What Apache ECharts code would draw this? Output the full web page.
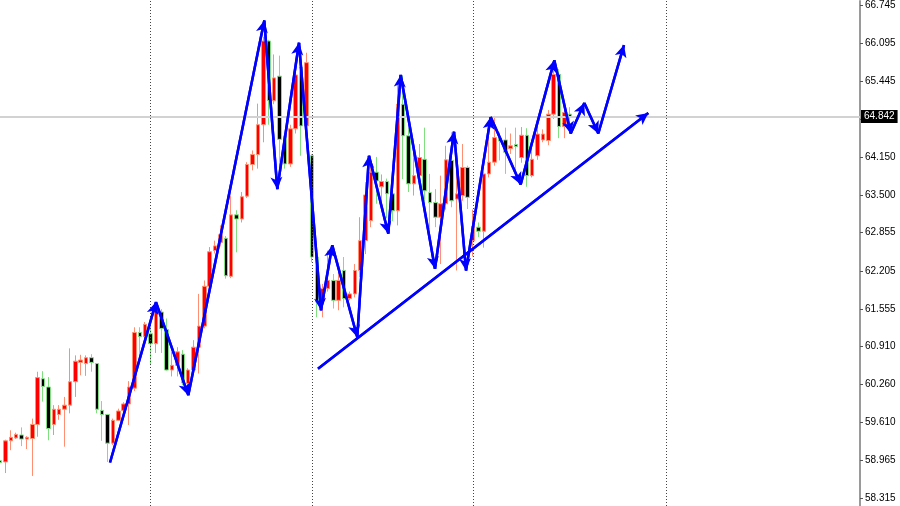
<!DOCTYPE html>
<html><head><meta charset="utf-8">
<script src="https://cdn.jsdelivr.net/npm/echarts@6/dist/echarts.min.js"></script>
<style>html,body{margin:0;padding:0;background:#fff}#c{width:900px;height:506px}</style>
</head><body><div id="c"></div>
<script>
// ---- data ----
const openV = [58.96,58.94,59.30,59.35,59.40,59.33,59.34,59.58,60.36,60.22, 59.58,59.75,59.84,59.91,60.31,60.64,60.62,60.72,60.62,59.82, 59.75,59.26,59.65,59.82,59.93,60.20,61.15,61.08,61.13,60.96, 61.50,61.20,60.51,60.59,60.78,60.28,60.51,60.90,61.26,61.94, 62.55,62.69,62.76,62.11,63.16,63.09,63.48,64.02,64.19,64.70, 66.13,65.11,65.53,64.51,64.03,64.63,65.68,64.68,64.17,62.44, 61.70,61.90,62.04,61.70,62.21,61.73,61.81,62.21,62.72,63.06, 63.89,63.64,63.73,63.52,63.23,65.05,64.51,63.69,63.83,64.11, 63.54,63.37,63.12,63.35,64.09,63.43,63.49,63.97,62.72,62.95, 62.88,63.86,64.06,64.47,64.44,64.29,64.36,64.14,64.52,63.83, 64.17,64.44,64.43,64.88,65.56,64.67,64.88];
const closeV = [58.93,59.30,59.36,59.41,59.33,59.36,59.58,60.38,60.23,59.51, 59.84,59.84,59.91,60.31,60.66,60.68,60.72,60.64,59.84,59.75, 59.26,59.65,59.81,59.93,60.22,61.15,61.08,61.29,60.96,61.53, 61.22,60.51,60.59,60.82,60.29,60.51,60.90,61.26,61.94,62.53, 62.63,62.82,62.12,63.16,63.09,63.47,64.02,64.19,64.70,66.13, 65.11,65.50,64.45,64.03,64.63,65.55,64.68,65.76,62.44,61.67, 61.90,62.04,61.70,62.04,61.73,61.81,62.21,62.72,63.50,63.89, 63.74,63.73,63.52,63.23,65.05,64.51,63.69,63.83,64.14,63.57, 63.37,63.12,63.35,64.10,63.40,63.52,63.97,63.46,62.97,62.88, 63.86,64.06,64.48,64.42,64.23,64.34,64.33,64.52,63.83,64.11, 64.54,64.54,64.88,65.56,64.67,64.91,64.842];
const lowV = [58.55,58.75,59.14,59.33,59.21,59.16,58.70,59.37,59.97,59.31, 59.40,59.66,59.20,59.77,60.05,60.42,60.41,60.48,59.77,59.30, 58.94,59.23,59.64,59.80,59.57,60.15,60.73,61.05,60.59,60.80, 60.80,60.50,60.40,60.40,60.25,60.14,60.44,60.45,61.22,61.90, 62.50,62.62,62.07,62.08,62.52,63.03,63.45,63.92,63.95,64.40, 64.70,65.05,64.00,63.95,63.98,64.55,64.17,64.60,62.35,61.41, 61.41,61.85,61.56,61.53,61.58,61.70,61.75,62.10,62.49,62.95, 63.35,63.40,63.10,63.05,62.98,63.77,63.55,63.49,63.75,63.40, 62.92,62.95,62.32,63.25,63.29,62.21,63.40,63.26,62.45,62.78, 62.60,63.80,64.00,64.09,63.86,64.20,63.88,64.05,63.64,63.80, 64.10,64.40,64.35,64.80,64.47,64.47,64.62];
const highV = [59.17,59.32,59.48,59.44,59.53,59.38,59.68,60.48,60.49,60.39, 59.91,59.91,60.05,60.88,60.76,60.77,60.76,60.78,60.63,59.98, 59.76,59.68,59.85,59.96,60.32,61.24,61.24,61.33,61.25,61.65, 61.55,61.39,60.82,60.90,60.85,60.54,61.02,61.81,62.04,62.61, 62.72,62.98,62.80,63.49,63.24,63.55,64.06,64.26,65.06,66.20, 66.15,65.90,65.88,64.55,64.70,65.72,65.73,65.93,64.20,62.44, 61.98,62.55,62.15,62.27,62.44,61.85,62.32,63.12,63.72,64.09, 64.15,63.85,63.78,63.70,65.45,65.55,64.65,64.37,64.37,64.65, 63.86,63.60,63.83,64.34,64.57,64.09,64.37,64.00,63.25,63.03, 63.90,64.50,64.85,64.57,64.65,64.55,64.65,64.66,64.64,64.40, 64.66,64.62,64.95,65.62,65.65,64.99,65.00];

const slotCount = 161;                       // bar slots incl. empty future space
const cats = Array.from({length: slotCount}, (_, i) => String(i));
const tickLabels = ['58.315','58.965','59.610','60.260','60.910','61.555','62.205','62.855','63.500','64.150','64.800','65.445','66.095','66.745'];
const lastPrice = 64.842;
const sepIdx = [28, 58, 88, 124];

const zigX = [20.47, 29.02, 35.03, 49.17, 51.59, 55.63, 59.72, 61.82, 66.47, 68.65, 72.24, 74.55, 80.93, 84.47, 86.70, 91.29, 96.87, 103.13, 106.18, 108.71, 111.31, 116.09];
const zigY = [58.93, 61.67, 60.08, 66.48, 63.60, 66.10, 61.53, 62.64, 61.07, 64.17, 62.84, 65.55, 62.24, 64.58, 62.21, 64.83, 63.68, 65.80, 64.55, 65.07, 64.55, 66.06];
const trendX = [59.16, 120.61];
const trendY = [60.53, 64.90];

// ---- build ----
const yMin = 58.187, yMax = 66.813;
const tickVals = tickLabels.map(Number);
const candles = openV.map((o, i) => [o, closeV[i], lowV[i], highV[i]]);
const BLUE = '#0000ff';

function segs(xs, ys) {
  const out = [];
  for (let k = 1; k < xs.length; k++) out.push([{coord: [xs[k-1], ys[k-1]]}, {coord: [xs[k], ys[k]]}]);
  return out;
}

const chart = echarts.init(document.getElementById('c'), null, {renderer: 'canvas'});
chart.setOption({
  animation: false,
  backgroundColor: '#ffffff',
  grid: {left: 0, right: 40, top: 0, bottom: 0},
  xAxis: [
    {type: 'category', data: cats, boundaryGap: false, show: false},
    {type: 'value', min: 0, max: slotCount - 1, show: false}
  ],
  yAxis: {
    type: 'value', position: 'right', min: yMin, max: yMax,
    axisLine: {show: true, onZero: false, lineStyle: {color: '#9a9a9a', width: 2}},
    axisTick: {show: true, length: 3, customValues: tickVals, lineStyle: {color: '#555'}},
    axisLabel: {
      show: true, customValues: tickVals, margin: 5, color: '#000', fontSize: 10,
      fontFamily: 'Liberation Sans',
      formatter: function (v) {
        let best = 0, bd = 1e9;
        tickVals.forEach((t, i) => { const d = Math.abs(t - v); if (d < bd) { bd = d; best = i; } });
        return tickLabels[best];
      }
    },
    splitLine: {show: false}
  },
  series: [
    {
      type: 'candlestick',
      data: candles,
      barWidth: 4,
      itemStyle: {
        color: '#ff0000', borderColor: '#ff8f70',
        color0: '#000000', borderColor0: '#80e080',
        borderWidth: 1
      },
      markLine: {
        silent: true, symbol: ['none', 'none'], animation: false,
        label: {show: false},
        lineStyle: {type: [1, 2], color: '#444', width: 1},
        data: sepIdx.map(i => ({xAxis: i})).concat([{
          yAxis: lastPrice,
          lineStyle: {type: 'solid', color: '#d2d2d2', width: 2},
          label: {
            show: true, position: 'end', distance: 1,
            formatter: () => lastPrice.toFixed(3),
            color: '#fff', backgroundColor: '#000', padding: [2, 3, 1, 3],
            fontSize: 10, fontFamily: 'Liberation Sans'
          }
        }])
      }
    },
    {
      type: 'line', xAxisIndex: 1, z: 5,
      data: zigX.map((x, i) => [x, zigY[i]]),
      symbol: 'none', lineStyle: {color: BLUE, width: 2.5},
      markLine: {
        silent: true, animation: false, symbol: ['none', 'arrow'], symbolSize: [9, 12],
        label: {show: false}, lineStyle: {color: BLUE, width: 2.5, type: 'solid'},
        data: segs(zigX, zigY)
      }
    },
    {
      type: 'line', xAxisIndex: 1, z: 5,
      data: trendX.map((x, i) => [x, trendY[i]]),
      symbol: 'none', lineStyle: {color: BLUE, width: 2.5},
      markLine: {
        silent: true, animation: false, symbol: ['none', 'arrow'], symbolSize: [9, 12],
        label: {show: false}, lineStyle: {color: BLUE, width: 2.5, type: 'solid'},
        data: segs(trendX, trendY)
      }
    }
  ]
});
</script></body></html>
